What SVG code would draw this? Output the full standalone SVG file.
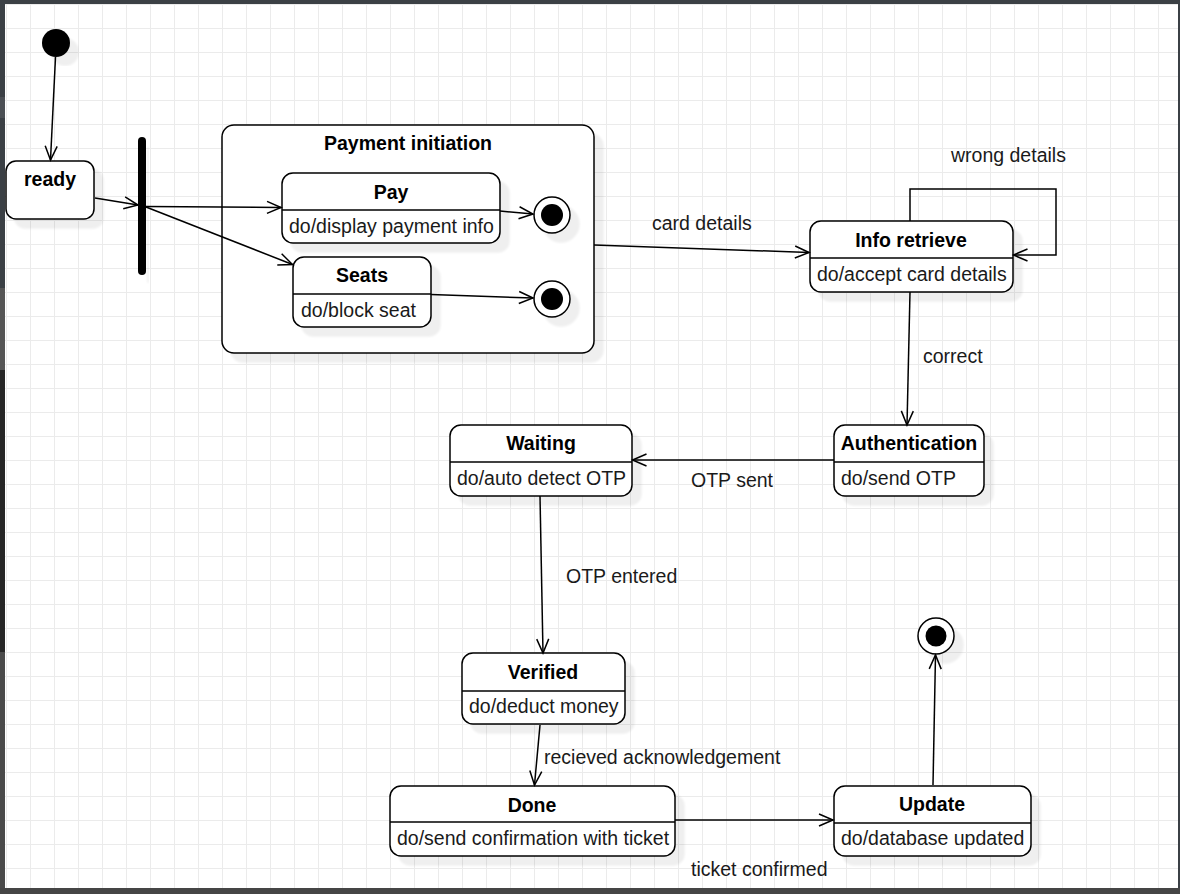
<svg xmlns="http://www.w3.org/2000/svg" width="1180" height="894" viewBox="0 0 1180 894">
  <defs>
    <pattern id="grid" patternUnits="userSpaceOnUse" x="6" y="4" width="24" height="24">
      <path d="M0.5,0 V24 M0,0.5 H24" fill="none" stroke="#ebebeb" stroke-width="1"/>
    </pattern>
    <filter id="shadow" x="-20%" y="-20%" width="150%" height="150%">
      <feOffset in="SourceAlpha" dx="9" dy="9"/>
      <feGaussianBlur stdDeviation="1.2"/>
      <feComponentTransfer><feFuncA type="linear" slope="0.065"/></feComponentTransfer>
      <feMerge><feMergeNode/><feMergeNode in="SourceGraphic"/></feMerge>
    </filter>
    <marker id="open" markerUnits="userSpaceOnUse" viewBox="-2 -2 18 16" markerWidth="18" markerHeight="16" refX="14" refY="6" orient="auto" overflow="visible">
      <path d="M0,0 L14,6 L0,12" fill="none" stroke="#000" stroke-width="1.5"/>
    </marker>
    <style>
      .box { fill: #fff; stroke: #000; stroke-width: 1.5; }
      .div { stroke: #000; stroke-width: 1.5; }
      .title { font-family: "Liberation Sans", Arial, sans-serif; font-size: 19.5px; font-weight: bold; fill: #000; text-anchor: middle; }
      .body { font-family: "Liberation Sans", Arial, sans-serif; font-size: 19.5px; fill: #1a1a1a; }
      .lbl { font-family: "Liberation Sans", Arial, sans-serif; font-size: 19.5px; fill: #1a1a1a; }
      .edge { fill: none; stroke: #000; stroke-width: 1.5; marker-end: url(#open); }
      .final-outer { fill: #fff; stroke: #000; stroke-width: 1.5; }
    </style>
  </defs>

  <!-- canvas -->
  <rect x="0" y="0" width="1180" height="894" fill="#fff"/>
  <rect x="0" y="0" width="1180" height="894" fill="url(#grid)"/>

  <!-- window frame -->
  <rect x="0" y="0" width="1180" height="4" fill="#3b4045"/>
  <rect x="0" y="0" width="5" height="97" fill="#3b4045"/>
  <rect x="0" y="97" width="5" height="21" fill="#4b4f54"/>
  <rect x="0" y="118" width="5" height="170" fill="#3b4045"/>
  <rect x="0" y="288" width="5" height="82" fill="#555"/>
  <rect x="0" y="370" width="5" height="282" fill="#262626"/>
  <rect x="0" y="652" width="5" height="236" fill="#4a4a4a"/>
  <rect x="1178" y="0" width="2" height="894" fill="#3b4045"/>
  <rect x="0" y="888" width="1180" height="6" fill="#454545"/>

  <!-- initial state -->
  <g id="initial">
    <circle cx="56" cy="43" r="14" fill="#000" filter="url(#shadow)"/>
  </g>

  <g id="ready">
    <rect class="box" x="6" y="161" width="88" height="58" rx="10" filter="url(#shadow)"/>
    <text class="title" x="50" y="186">ready</text>
  </g>

  <g id="fork">
    <rect x="138" y="137" width="8" height="138" rx="4" fill="#000" filter="url(#shadow)"/>
  </g>

  <!-- composite state -->
  <g id="payment-initiation">
    <rect class="box" x="222" y="125" width="372" height="228" rx="12" filter="url(#shadow)"/>
    <text class="title" x="408" y="150">Payment initiation</text>
  </g>

  <g id="pay">
    <rect class="box" x="282" y="173" width="218" height="70" rx="11" filter="url(#shadow)"/>
    <line class="div" x1="282" y1="210" x2="500" y2="210"/>
    <text class="title" x="391" y="198.5">Pay</text>
    <text class="body" x="289" y="232.5">do/display payment info</text>
  </g>

  <g id="seats">
    <rect class="box" x="293" y="257" width="138" height="70" rx="11" filter="url(#shadow)"/>
    <line class="div" x1="293" y1="294" x2="431" y2="294"/>
    <text class="title" x="362" y="282">Seats</text>
    <text class="body" x="301" y="316.5">do/block seat</text>
  </g>

  <g id="pay-final">
    <circle class="final-outer" cx="552" cy="215" r="18" filter="url(#shadow)"/>
    <circle cx="552" cy="215" r="11" fill="#000"/>
  </g>

  <g id="seats-final">
    <circle class="final-outer" cx="552" cy="299" r="18" filter="url(#shadow)"/>
    <circle cx="552" cy="299" r="11" fill="#000"/>
  </g>

  <g id="info-retrieve">
    <rect class="box" x="810" y="221" width="203" height="71" rx="11" filter="url(#shadow)"/>
    <line class="div" x1="810" y1="258" x2="1013" y2="258"/>
    <text class="title" x="911" y="247">Info retrieve</text>
    <text class="body" x="817" y="281">do/accept card details</text>
  </g>

  <g id="authentication">
    <rect class="box" x="834" y="425" width="150" height="71" rx="11" filter="url(#shadow)"/>
    <line class="div" x1="834" y1="462" x2="984" y2="462"/>
    <text class="title" x="909" y="450">Authentication</text>
    <text class="body" x="841" y="485">do/send OTP</text>
  </g>

  <g id="waiting">
    <rect class="box" x="450" y="425" width="182" height="71" rx="11" filter="url(#shadow)"/>
    <line class="div" x1="450" y1="462" x2="632" y2="462"/>
    <text class="title" x="541" y="450">Waiting</text>
    <text class="body" x="457" y="485">do/auto detect OTP</text>
  </g>

  <g id="verified">
    <rect class="box" x="462" y="653" width="163" height="71" rx="11" filter="url(#shadow)"/>
    <line class="div" x1="462" y1="691" x2="625" y2="691"/>
    <text class="title" x="543" y="679">Verified</text>
    <text class="body" x="469" y="713">do/deduct money</text>
  </g>

  <g id="done">
    <rect class="box" x="390" y="786" width="285" height="70" rx="11" filter="url(#shadow)"/>
    <line class="div" x1="390" y1="822" x2="675" y2="822"/>
    <text class="title" x="532" y="811.5">Done</text>
    <text class="body" x="397" y="844.5">do/send confirmation with ticket</text>
  </g>

  <g id="update">
    <rect class="box" x="834" y="786" width="197" height="70" rx="11" filter="url(#shadow)"/>
    <line class="div" x1="834" y1="823" x2="1031" y2="823"/>
    <text class="title" x="932" y="811">Update</text>
    <text class="body" x="841" y="845">do/database updated</text>
  </g>

  <g id="final">
    <circle class="final-outer" cx="936" cy="636" r="18" filter="url(#shadow)"/>
    <circle cx="936" cy="636" r="10.5" fill="#000"/>
  </g>

  <!-- transitions -->
  <g id="connectors">
    <line class="edge" x1="55.5" y1="57" x2="50.5" y2="160"/>
    <line class="edge" x1="95" y1="198" x2="138" y2="205"/>
    <line class="edge" x1="146" y1="206.5" x2="281" y2="207.5"/>
    <line class="edge" x1="146" y1="207" x2="292.5" y2="264.5"/>
    <line class="edge" x1="500" y1="211" x2="533" y2="214"/>
    <line class="edge" x1="431" y1="294.5" x2="533" y2="298"/>
    <line class="edge" x1="594" y1="245" x2="809" y2="252.5"/>
    <path class="edge" d="M910,221 V189 H1056 V255 H1013.5"/>
    <line class="edge" x1="910" y1="292" x2="907" y2="425"/>
    <line class="edge" x1="834" y1="460" x2="632.5" y2="460"/>
    <line class="edge" x1="540" y1="496" x2="543" y2="653"/>
    <line class="edge" x1="540" y1="725" x2="534.5" y2="785"/>
    <line class="edge" x1="675" y1="820" x2="833" y2="820"/>
    <line class="edge" x1="933" y1="785" x2="935.5" y2="655"/>

    <text class="lbl" x="652" y="230">card details</text>
    <text class="lbl" x="951" y="162">wrong details</text>
    <text class="lbl" x="923" y="363">correct</text>
    <text class="lbl" x="691" y="487">OTP sent</text>
    <text class="lbl" x="566" y="583">OTP entered</text>
    <text class="lbl" x="544" y="763.5">recieved acknowledgement</text>
    <text class="lbl" x="691" y="876">ticket confirmed</text>
  </g>
</svg>
